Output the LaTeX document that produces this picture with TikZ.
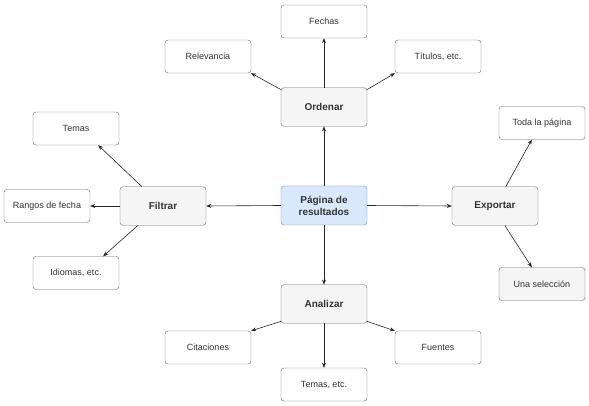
\documentclass[tikz,border=0pt]{standalone}
\usepackage{fontspec}
\setmainfont{Liberation Sans}
\usepackage{xcolor}
\usetikzlibrary{calc,positioning,arrows.meta,shapes}

\definecolor{edgegray}{HTML}{666666}
\definecolor{txtgray}{HTML}{333333}
\definecolor{catfill}{HTML}{F5F5F5}
\definecolor{mainfill}{HTML}{DAE8FC}
\definecolor{mainline}{HTML}{6C8EBF}

\begin{document}
\begin{tikzpicture}[x=1pt, y=-1pt,
		leaf/.style={draw=edgegray, fill=white, rounded corners=3pt, minimum width=86pt, minimum height=33pt, inner sep=0pt, text=txtgray, font=\fontsize{9}{11}\selectfont},
		cat/.style={leaf, fill=catfill, minimum height=38.5pt, font=\fontsize{10}{12}\selectfont\bfseries},
		hub/.style={cat, fill=mainfill, draw=mainline, align=center, minimum height=39pt},
		arr/.style={-{Stealth[length=5pt,width=4pt]}, line width=0.6pt, draw=black!85}]
			\useasboundingbox (0,0) rectangle (589,406);

			% centre
			\node[hub] (pagina) at(324, 205.5){P\'agina de\\resultados};

			% ordenar
			\node[cat] (ordenar) at(324, 107){Ordenar};
				\node[leaf] (fechas) at(324, 21.5){Fechas};
				\node[leaf] (relevancia) at(208, 56.5){Relevancia};
				\node[leaf] (titulos) at(438, 56.5){T\'itulos, etc.};

			% filtrar
			\node[cat] (filtrar) at(163, 206){Filtrar};
				\node[leaf] (temas) at(76, 128.5){Temas};
				\node[leaf] (rangos) at(47, 206){Rangos de fecha};
				\node[leaf] (idiomas) at(76, 273){Idiomas, etc.};

			% exportar
			\node[cat] (exportar) at(495, 206){Exportar};
				\node[leaf] (toda) at(542, 123){Toda la p\'agina};
				\node[leaf, fill=catfill] (seleccion) at(542, 284){Una selecci\'on};

			% analizar
			\node[cat] (analizar) at(324, 304){Analizar};
				\node[leaf] (citaciones) at(208, 347.5){Citaciones};
				\node[leaf] (fuentes) at(438, 347.5){Fuentes};
				\node[leaf] (temasetc) at(324, 384.5){Temas, etc.};

			\draw[arr](pagina.north) to (ordenar.south);
			\draw[arr](pagina.west) to (filtrar.east);
			\draw[arr](pagina.east) to (exportar.west);
			\draw[arr](pagina.south) to (analizar.north);

			\draw[arr](ordenar.north) to (fechas.south);
			\draw[arr]([yshift=-2pt]ordenar.north west) to (relevancia.south east);
			\draw[arr]([yshift=-2pt]ordenar.north east) to (titulos.south west);

			\draw[arr]([xshift=22pt]filtrar.north west) to ([xshift=-21pt]temas.south east);
			\draw[arr](filtrar.west) to (rangos.east);
			\draw[arr]([xshift=18pt]filtrar.south west) to ([xshift=-16pt]idiomas.north east);

			\draw[arr]([xshift=54pt]exportar.north west) to ([xshift=33pt]toda.south west);
			\draw[arr]([xshift=53pt]exportar.south west) to ([xshift=33pt]seleccion.north west);

			\draw[arr]([yshift=2pt]analizar.south west) to (citaciones.north east);
			\draw[arr]([yshift=2pt]analizar.south east) to (fuentes.north west);
			\draw[arr](analizar.south) to (temasetc.north);

		\end{tikzpicture}
\end{document}
